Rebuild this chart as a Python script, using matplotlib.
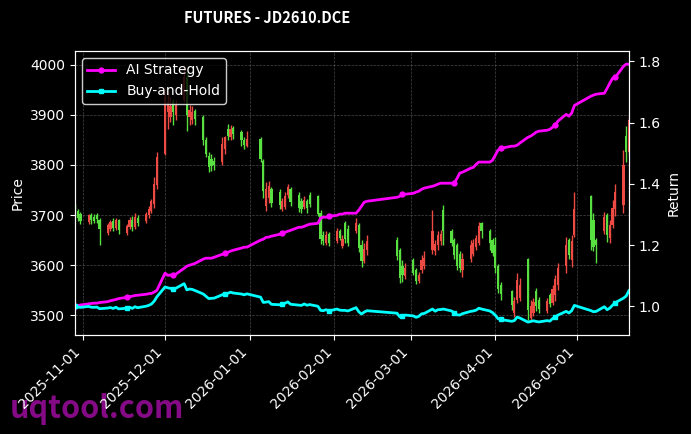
import matplotlib
matplotlib.use('Agg')
import matplotlib.pyplot as plt
import matplotlib.dates as mdates
import numpy as np
import pandas as pd

# ---- data ----
start_date = '2025-10-29'
end_date = '2026-05-20'
holidays = ['2026-01-01', '2026-01-02', '2026-02-16', '2026-02-17', '2026-02-18',
            '2026-02-19', '2026-02-20', '2026-02-23', '2026-04-06', '2026-05-01',
            '2026-05-04', '2026-05-05']

opens = [3715, 3708, 3702, 3686, 3701, 3697, 3700, 3690, 3664, 3672,
         3688, 3674, 3690, 3665, 3676, 3690, 3676, 3694, 3688, 3700,
         3708, 3722, 3760, 3822, 3905, 3895, 3925, 3900, 3930, 3975,
         3895, 3890, 3908, 3895, 3850, 3818, 3812, 3808, 3805, 3832,
         3872, 3856, 3874, 3866, 3850, 3838, 3852, 3808, 3718, 3735,
         3752, 3745, 3712, 3716, 3740, 3752, 3740, 3728, 3716, 3728,
         3740, 3738, 3705, 3660, 3645, 3662, 3648, 3668, 3638, 3684,
         3672, 3668, 3680, 3640, 3608, 3630, 3650, 3630, 3598, 3578,
         3610, 3590, 3568, 3590, 3598, 3630, 3628, 3640, 3648, 3710,
         3668, 3650, 3640, 3622, 3590, 3612, 3622, 3636, 3645, 3684,
         3668, 3650, 3640, 3598, 3560, 3548, 3505, 3530, 3535, 3612,
         3495, 3505, 3548, 3530, 3508, 3540, 3525, 3540, 3560, 3598,
         3650, 3610, 3660, 3738, 3690, 3650, 3668, 3700, 3655, 3680,
         3712, 3720, 3858, 3826]
highs = [3722, 3712, 3706, 3703, 3704, 3702, 3704, 3694, 3684, 3690,
         3694, 3694, 3693, 3682, 3696, 3698, 3705, 3700, 3706, 3718,
         3732, 3775, 3825, 3952, 3945, 3935, 3932, 3930, 4000, 3985,
         3920, 3918, 3912, 3900, 3856, 3825, 3822, 3815, 3855, 3858,
         3882, 3880, 3878, 3870, 3856, 3868, 3856, 3812, 3765, 3768,
         3756, 3752, 3735, 3745, 3762, 3756, 3745, 3735, 3738, 3732,
         3746, 3740, 3710, 3668, 3668, 3666, 3675, 3672, 3660, 3688,
         3680, 3694, 3684, 3650, 3645, 3660, 3656, 3634, 3610, 3605,
         3614, 3594, 3586, 3620, 3628, 3710, 3650, 3668, 3670, 3720,
         3672, 3654, 3644, 3628, 3624, 3650, 3652, 3660, 3686, 3686,
         3672, 3654, 3656, 3602, 3566, 3550, 3536, 3584, 3575, 3614,
         3530, 3534, 3554, 3536, 3535, 3545, 3560, 3580, 3604, 3656,
         3654, 3660, 3746, 3740, 3704, 3655, 3706, 3704, 3690, 3730,
         3762, 3830, 3878, 3895]
lows = [3695, 3688, 3682, 3682, 3683, 3684, 3685, 3640, 3660, 3668,
        3668, 3670, 3662, 3660, 3672, 3668, 3672, 3678, 3684, 3695,
        3704, 3715, 3752, 3820, 3872, 3885, 3880, 3890, 3925, 3868,
        3880, 3882, 3880, 3840, 3815, 3785, 3788, 3790, 3800, 3822,
        3850, 3850, 3852, 3838, 3832, 3835, 3805, 3735, 3708, 3725,
        3716, 3712, 3708, 3712, 3735, 3718, 3706, 3704, 3712, 3705,
        3716, 3698, 3642, 3640, 3640, 3638, 3644, 3650, 3634, 3645,
        3638, 3664, 3626, 3596, 3604, 3620, 3610, 3564, 3566, 3572,
        3580, 3562, 3564, 3585, 3592, 3622, 3620, 3630, 3640, 3640,
        3638, 3612, 3590, 3586, 3576, 3606, 3618, 3630, 3640, 3655,
        3630, 3618, 3585, 3544, 3530, 3510, 3496, 3524, 3528, 3490,
        3490, 3498, 3508, 3504, 3504, 3516, 3520, 3528, 3550, 3584,
        3612, 3596, 3656, 3630, 3628, 3604, 3662, 3646, 3644, 3674,
        3698, 3705, 3806, 3820]
closes = [3702, 3694, 3688, 3700, 3690, 3689, 3692, 3672, 3680, 3686,
          3675, 3690, 3670, 3678, 3690, 3676, 3696, 3684, 3702, 3712,
          3728, 3762, 3815, 3935, 3925, 3918, 3905, 3920, 3975, 3900,
          3910, 3905, 3892, 3850, 3822, 3795, 3798, 3800, 3842, 3855,
          3858, 3872, 3862, 3850, 3840, 3852, 3812, 3748, 3752, 3758,
          3725, 3720, 3728, 3738, 3755, 3726, 3715, 3712, 3730, 3714,
          3722, 3702, 3652, 3648, 3660, 3645, 3668, 3655, 3652, 3652,
          3645, 3685, 3635, 3608, 3632, 3648, 3618, 3575, 3580, 3595,
          3585, 3568, 3580, 3610, 3615, 3668, 3642, 3660, 3662, 3668,
          3645, 3620, 3598, 3595, 3612, 3640, 3645, 3655, 3678, 3668,
          3645, 3625, 3595, 3552, 3542, 3520, 3528, 3570, 3560, 3510,
          3518, 3526, 3518, 3512, 3528, 3522, 3552, 3572, 3595, 3640,
          3620, 3648, 3712, 3650, 3636, 3640, 3696, 3660, 3680, 3715,
          3745, 3800, 3826, 3890]
strategy = [1.000, 1.002, 1.004, 1.008, 1.009, 1.010, 1.010, 1.012, 1.015, 1.018,
            1.020, 1.022, 1.025, 1.029, 1.031, 1.033, 1.035, 1.036, 1.039, 1.041,
            1.042, 1.046, 1.052, 1.108, 1.101, 1.102, 1.101, 1.105, 1.124, 1.131,
            1.134, 1.137, 1.140, 1.154, 1.157, 1.157, 1.157, 1.160, 1.170, 1.173,
            1.176, 1.180, 1.183, 1.190, 1.193, 1.193, 1.216, 1.219, 1.225, 1.226,
            1.229, 1.235, 1.239, 1.242, 1.245, 1.248, 1.258, 1.258, 1.261, 1.265,
            1.268, 1.271, 1.288, 1.291, 1.291, 1.294, 1.297, 1.301, 1.301, 1.304,
            1.304, 1.304, 1.314, 1.327, 1.340, 1.343, 1.356, 1.359, 1.366, 1.366,
            1.369, 1.373, 1.376, 1.382, 1.386, 1.392, 1.395, 1.399, 1.402, 1.402,
            1.402, 1.402, 1.418, 1.435, 1.438, 1.451, 1.454, 1.464, 1.471, 1.471,
            1.471, 1.477, 1.493, 1.510, 1.516, 1.523, 1.523, 1.526, 1.533, 1.552,
            1.556, 1.562, 1.569, 1.572, 1.575, 1.578, 1.585, 1.592, 1.605, 1.627,
            1.621, 1.631, 1.656, 1.686, 1.690, 1.693, 1.696, 1.712, 1.729, 1.745,
            1.748, 1.784, 1.791, 1.791]

title_text = 'FUTURES - JD2610.DCE'
watermark = 'uqtool.com'

# ---- build ----
days = pd.bdate_range(start_date, end_date)
days = days[~days.isin(pd.to_datetime(holidays))]
x = mdates.date2num(days.to_pydatetime())
o = np.array(opens, float)
h = np.array(highs, float)
l = np.array(lows, float)
c = np.array(closes, float)
bh = c / c[0]
strat = np.array(strategy, float)

up_col = '#ec4a42'
dn_col = '#58e040'
cols = [up_col if cc >= oo else dn_col for oo, cc in zip(o, c)]

fig = plt.figure(figsize=(6.91, 4.34), dpi=100, facecolor='black')
ax1 = fig.add_axes([0.1085, 0.2281, 0.8017, 0.6544], facecolor='black')

ax1.vlines(x, l, h, colors=cols, linewidth=1.0, zorder=2)
body = np.maximum(np.abs(c - o), 1.0)
ax1.bar(x, body, bottom=np.minimum(o, c), width=0.8, color=cols, zorder=2, linewidth=0)

ax1.set_xlim(x[0], x[-1])
ax1.set_ylim(3461, 4027)
ax1.set_ylabel('Price', color='white', fontsize=10)
ax1.grid(True, color='#777777', linestyle='--', linewidth=0.5, alpha=0.6)
ax1.xaxis.set_major_locator(mdates.MonthLocator())
ax1.xaxis.set_major_formatter(mdates.DateFormatter('%Y-%m-%d'))
plt.setp(ax1.get_xticklabels(), rotation=45, ha='right')

ax2 = ax1.twinx()
ax2.plot(x, strat, color='#ff00ff', linewidth=2, marker='o', markersize=3.5,
         markevery=len(x) // 10, label='AI Strategy')
ax2.plot(x, bh, color='#00ffff', linewidth=2, marker='s', markersize=3.5,
         markevery=len(x) // 10, label='Buy-and-Hold')
ax2.set_ylim(0.906, 1.834)
ax2.set_ylabel('Return', color='white', fontsize=10)

for ax in (ax1, ax2):
    ax.tick_params(colors='white', labelsize=10)
    for s in ax.spines.values():
        s.set_color('white')

leg = ax2.legend(loc='upper left', facecolor='black', edgecolor='white',
                 labelcolor='white', framealpha=0.8, fontsize=10)

fig.text(0.3865, 0.958, title_text, color='white', fontsize=10.5, fontweight='bold',
         ha='center', va='center', family=['Noto Sans CJK SC', 'DejaVu Sans'])
fig.text(0.014, 0.058, watermark, color='#850a85', fontsize=22, fontweight='bold',
         ha='left', va='center', zorder=-1, family=['Noto Sans CJK SC', 'DejaVu Sans'])

fig.savefig('out.png', dpi=100, facecolor='black')
